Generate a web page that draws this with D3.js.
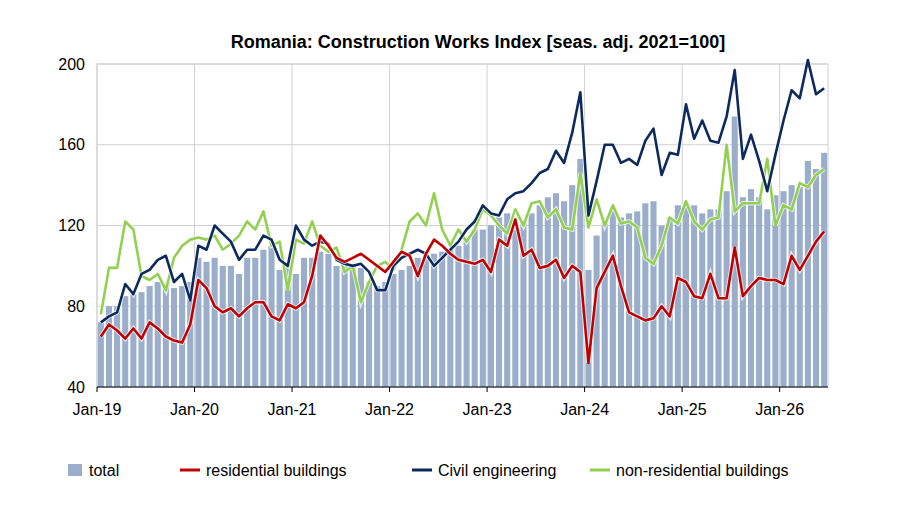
<!DOCTYPE html>
<html><head><meta charset="utf-8">
<script src="https://cdn.jsdelivr.net/npm/d3@7"></script>
<style>body{margin:0;background:#fff;font-family:Arial,"Liberation Sans",sans-serif}</style>
</head><body><div id="chart"></div>
<script>
var tickLabels = ["Jan-19","Jan-20","Jan-21","Jan-22","Jan-23","Jan-24","Jan-25","Jan-26"];
var yTicks = [40, 80, 120, 160, 200];
var total = [72,80,80,85,86,87,90,92,91,89,90,92,
  104,102,104,100,100,96,104,104,108,110,98,100,
  96,104,104,107,106,100,103,101,99,92,90,92,
  96,98,100,104,106,106,107,108,110,114,118,118,
  120,124,126,118,122,126,130,134,136,132,140,153,
  98,115,122,128,124,126,127,131,132,120,124,130,
  131,130,126,128,128,137,174,134,138,134,128,135,
  137,140,139,152,148,156];
var civil = [72,75,77,91,86,96,98,103,105,92,96,83,
  110,108,120,116,112,103,108,108,115,113,103,100,
  120,113,110,112,111,103,101,100,101,97,88,88,
  100,104,106,108,106,100,104,108,112,118,122,130,
  126,125,133,136,137,141,146,148,157,151,166,186,
  125,142,160,160,151,153,150,162,168,145,156,155,
  180,163,172,162,161,174,197,153,165,152,137,155,
  172,187,183,202,185,188];
var residential = [65,71,68,64,69,64,72,69,65,63,62,71,
  93,89,80,77,79,75,79,82,82,75,73,81,
  79,82,95,115,110,104,102,104,106,103,100,97,
  102,107,105,95,106,113,110,106,103,102,101,103,
  97,113,110,123,105,108,99,100,103,94,100,97,
  52,89,97,105,90,77,75,73,74,80,75,94,
  92,85,84,96,84,84,109,85,90,94,93,93,
  91,105,98,105,112,117];
var nonResidential = [76,99,99,122,118,95,93,96,88,104,110,113,
  114,113,115,108,111,115,122,118,127,110,112,88,
  113,111,122,110,107,109,97,100,82,92,100,102,
  98,108,122,126,120,136,118,110,118,112,118,128,
  125,120,116,128,120,131,132,124,128,119,118,146,
  119,133,120,130,121,122,119,104,101,110,124,121,
  132,122,118,123,124,160,127,131,131,131,153,120,
  130,128,141,139,145,148];

var svg = d3.select("#chart").append("svg").attr("width", 900).attr("height", 510);
var margin = {top: 64, left: 97, right: 72, bottom: 123};
var width = 900 - margin.left - margin.right;
var height = 510 - margin.top - margin.bottom;
var g = svg.append("g").attr("transform", `translate(${margin.left},${margin.top})`);

svg.append("text").attr("x", 478).attr("y", 48).attr("text-anchor", "middle")
  .attr("font-size", 18).attr("font-weight", "bold")
  .text("Romania: Construction Works Index [seas. adj. 2021=100]");

var idx = d3.range(total.length);
var x = d3.scaleBand().domain(idx).range([0, width]).paddingInner(0.25).paddingOuter(0.1);
var y = d3.scaleLinear().domain([40, 200]).range([height, 0]);
var step = x.step();

// grid
g.selectAll(".hg").data(yTicks).enter().append("line")
  .attr("x1", 0).attr("x2", width).attr("y1", d => y(d)).attr("y2", d => y(d))
  .attr("stroke", "#d0d0d0");
g.selectAll(".vg").data(tickLabels).enter().append("line")
  .attr("x1", (d, i) => i * 12 * step).attr("x2", (d, i) => i * 12 * step)
  .attr("y1", 0).attr("y2", height).attr("stroke", "#d0d0d0");
g.append("rect").attr("width", width).attr("height", height).attr("fill", "none").attr("stroke", "#d0d0d0");

g.selectAll(".bar").data(total).enter().append("rect")
  .attr("x", (d, i) => x(i)).attr("width", x.bandwidth())
  .attr("y", d => y(d)).attr("height", d => height - y(d))
  .attr("fill", "#9aaecb");

var line = d3.line().x((d, i) => x(i) + x.bandwidth() / 2).y(d => y(d));
[[nonResidential, "#92d050"], [civil, "#0d2a5e"], [residential, "#c00000"]].forEach(function(s) {
  g.append("path").datum(s[0]).attr("d", line).attr("fill", "none")
    .attr("stroke", "#fff").attr("stroke-width", 4.5).attr("opacity", 0.7);
  g.append("path").datum(s[0]).attr("d", line).attr("fill", "none")
    .attr("stroke", s[1]).attr("stroke-width", 2.6).attr("stroke-linejoin", "round");
});

g.append("g").call(d3.axisLeft(y).tickValues(yTicks).tickSize(0).tickPadding(12))
  .call(a => a.select(".domain").remove())
  .selectAll("text").attr("font-size", 16).attr("fill", "#000").attr("font-family", "Arial,Liberation Sans");
g.append("line").attr("x1", 0).attr("x2", width).attr("y1", height).attr("y2", height).attr("stroke", "#000");
tickLabels.forEach(function(t, i) {
  g.append("line").attr("x1", i * 12 * step).attr("x2", i * 12 * step)
    .attr("y1", height).attr("y2", height + 5).attr("stroke", "#000");
  g.append("text").attr("x", i * 12 * step).attr("y", height + 28).attr("text-anchor", "middle")
    .attr("font-size", 16).text(t);
});

var legend = [["total", "bar", "#9aaecb", 68], ["residential buildings", "line", "#c00000", 180],
  ["Civil engineering", "line", "#0d2a5e", 412], ["non-residential buildings", "line", "#92d050", 590]];
legend.forEach(function(l) {
  if (l[1] === "bar") svg.append("rect").attr("x", l[3]).attr("y", 464).attr("width", 14).attr("height", 12).attr("fill", l[2]);
  else svg.append("line").attr("x1", l[3]).attr("x2", l[3] + 20).attr("y1", 470).attr("y2", 470).attr("stroke", l[2]).attr("stroke-width", 3);
  svg.append("text").attr("x", l[3] + (l[1] === "bar" ? 21 : 26)).attr("y", 476).attr("font-size", 16).text(l[0]);
});
</script></body></html>
